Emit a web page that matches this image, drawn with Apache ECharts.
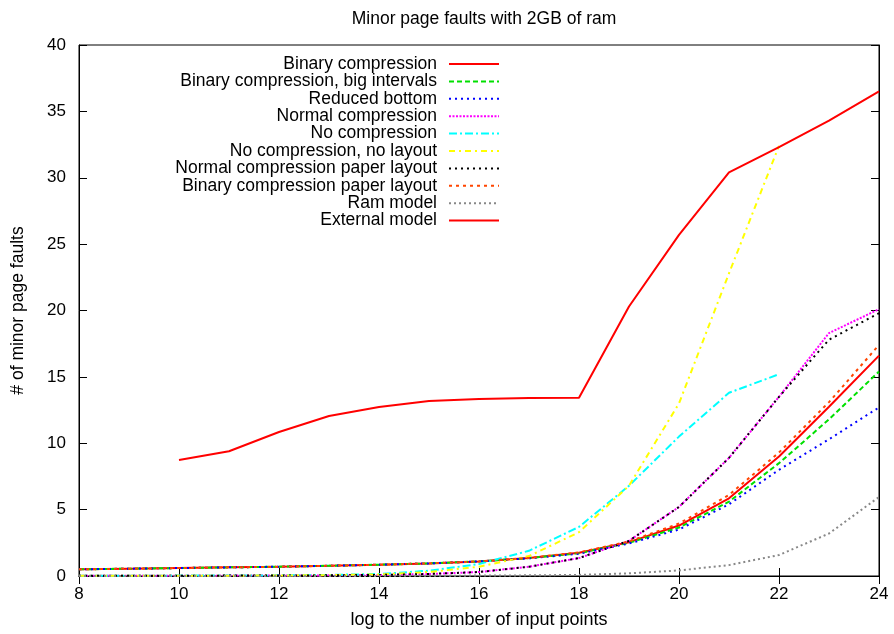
<!DOCTYPE html>
<html>
<head>
<meta charset="utf-8">
<script src="https://cdn.jsdelivr.net/npm/echarts@6/dist/echarts.min.js"></script>
<style>
  html, body { margin: 0; padding: 0; background: #fff; }
  #chart { width: 894px; height: 634px; }
</style>
</head>
<body>
<div id="chart"></div>
<script>
// log2 of the number of input points
const xValues = [8, 9, 10, 11, 12, 13, 14, 15, 16, 17, 18, 19, 20, 21, 22, 23, 24];
const xTicks = [8, 10, 12, 14, 16, 18, 20, 22, 24];
const yTicks = [0, 5, 10, 15, 20, 25, 30, 35, 40];

const binaryCompression       = [0.5, 0.55, 0.6, 0.65, 0.7, 0.77, 0.85, 0.95, 1.1, 1.35, 1.75, 2.55, 3.8, 5.85, 9.0, 12.75, 16.6];
const binaryBigIntervals      = [0.5, 0.55, 0.6, 0.65, 0.7, 0.77, 0.85, 0.95, 1.1, 1.35, 1.72, 2.5, 3.65, 5.6, 8.5, 11.8, 15.4];
const reducedBottom           = [0.5, 0.55, 0.6, 0.65, 0.7, 0.77, 0.85, 0.95, 1.1, 1.33, 1.68, 2.45, 3.5, 5.4, 8.0, 10.3, 12.7];
const normalCompression       = [0.02, 0.02, 0.02, 0.03, 0.03, 0.05, 0.08, 0.15, 0.3, 0.7, 1.35, 2.65, 5.2, 8.9, 13.5, 18.3, 20.1];
const noCompression           = [0.02, 0.02, 0.03, 0.03, 0.05, 0.08, 0.15, 0.4, 0.9, 1.9, 3.7, 6.8, 10.5, 13.8, 15.2, null, null];
const noCompressionNoLayout   = [0.01, 0.01, 0.02, 0.02, 0.04, 0.06, 0.12, 0.3, 0.7, 1.5, 3.3, 6.8, 13.0, 22.8, 32.4, null, null];
const normalPaperLayout       = [0.02, 0.02, 0.02, 0.03, 0.03, 0.05, 0.08, 0.15, 0.3, 0.7, 1.35, 2.65, 5.2, 8.9, 13.5, 17.8, 19.8];
const binaryPaperLayout       = [0.5, 0.55, 0.6, 0.65, 0.7, 0.77, 0.85, 0.95, 1.1, 1.36, 1.78, 2.6, 3.95, 6.1, 9.3, 13.1, 17.4];
const ramModel                = [0, 0, 0, 0, 0, 0, 0.01, 0.02, 0.03, 0.05, 0.08, 0.2, 0.42, 0.82, 1.58, 3.2, 5.95];
const externalModel           = [null, null, 8.74, 9.4, 10.85, 12.05, 12.73, 13.18, 13.33, 13.4, 13.42, 20.3, 25.7, 30.4, 32.3, 34.3, 36.5];

const seriesDefs = [
  { name: 'Binary compression', data: binaryCompression, color: '#ff0000', type: 'solid' },
  { name: 'Binary compression, big intervals', data: binaryBigIntervals, color: '#00e000', type: [5, 3] },
  { name: 'Reduced bottom', data: reducedBottom, color: '#0000ff', type: [2, 4] },
  { name: 'Normal compression', data: normalCompression, color: '#ff00ff', type: [2, 1.5] },
  { name: 'No compression', data: noCompression, color: '#00ffff', type: [8, 3, 2, 3] },
  { name: 'No compression, no layout', data: noCompressionNoLayout, color: '#ffff00', type: [6, 4, 2, 4] },
  { name: 'Normal compression paper layout', data: normalPaperLayout, color: '#000000', type: [2, 4] },
  { name: 'Binary compression paper layout', data: binaryPaperLayout, color: '#ff4500', type: [3, 4] },
  { name: 'Ram model', data: ramModel, color: '#888888', type: [2, 3] },
  { name: 'External model', data: externalModel, color: '#ff0000', type: 'solid' }
];

const FONT = 'Liberation Sans';
const FS = 17.5;
const tickStyle = { show: true, inside: true, length: 8, lineStyle: { color: '#000', width: 1 } };

const chart = echarts.init(document.getElementById('chart'), null, { renderer: 'canvas' });
chart.setOption({
  animation: false,
  backgroundColor: '#fff',
  textStyle: { fontFamily: FONT },
  title: {
    text: 'Minor page faults with 2GB of ram',
    left: 479, top: 5, textAlign: 'center',
    textStyle: { fontFamily: FONT, fontSize: FS, fontWeight: 'normal', color: '#000' }
  },
  legend: {
    orient: 'vertical',
    align: 'right',
    right: 394, top: 55,
    padding: 0,
    itemWidth: 50, itemHeight: 12, itemGap: -0.6,
    itemStyle: { opacity: 0, borderWidth: 0 },
    textStyle: { fontFamily: FONT, fontSize: FS, lineHeight: 16.9, color: '#000', padding: [0, 7, 0, 0] },
    data: seriesDefs.map(s => s.name)
  },
  grid: { left: 79, right: 15, top: 45, bottom: 58, show: true, borderColor: '#000', borderWidth: 1 },
  xAxis: [{
    type: 'value', min: xTicks[0], max: xTicks[xTicks.length - 1], interval: 2,
    name: 'log to the number of input points', nameLocation: 'middle', nameGap: 35,
    nameTextStyle: { fontFamily: FONT, fontSize: 18, color: '#000' },
    axisLine: { show: true, lineStyle: { color: '#000', width: 1 } },
    axisTick: tickStyle,
    axisLabel: { fontFamily: FONT, fontSize: 17, color: '#000', margin: 10 },
    splitLine: { show: false }
  }, {
    type: 'value', position: 'top', min: xTicks[0], max: xTicks[xTicks.length - 1], interval: 2,
    axisLine: { show: true, lineStyle: { color: '#000' } },
    axisTick: tickStyle, axisLabel: { show: false }, splitLine: { show: false }
  }],
  yAxis: [{
    type: 'value', min: yTicks[0], max: yTicks[yTicks.length - 1], interval: 5,
    name: '# of minor page faults', nameLocation: 'middle', nameGap: 52, nameRotate: 90,
    nameTextStyle: { fontFamily: FONT, fontSize: FS, color: '#000' },
    axisLine: { show: true, lineStyle: { color: '#000', width: 1 } },
    axisTick: tickStyle,
    axisLabel: { fontFamily: FONT, fontSize: 17, color: '#000', margin: 13 },
    splitLine: { show: false }
  }, {
    type: 'value', position: 'right', min: yTicks[0], max: yTicks[yTicks.length - 1], interval: 5,
    axisLine: { show: true, lineStyle: { color: '#000' } },
    axisTick: tickStyle, axisLabel: { show: false }, splitLine: { show: false }
  }],
  series: seriesDefs.map(s => ({
    name: s.name,
    type: 'line',
    symbol: 'none',
    connectNulls: false,
    color: s.color,
    lineStyle: { color: s.color, width: 2, type: s.type },
    data: xValues.map((x, i) => [x, s.data[i]])
  }))
});
</script>
</body>
</html>
